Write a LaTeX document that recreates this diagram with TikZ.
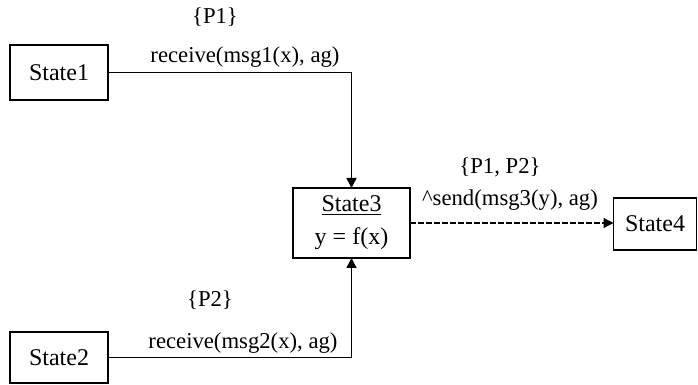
\documentclass[tikz,border=0pt]{standalone}
\usepackage{fontspec}
\setmainfont{Liberation Serif}
\usetikzlibrary{arrows.meta}
\tikzset{state/.style={draw=black, line width=0.8pt, inner sep=0pt, outer sep=0pt, align=center, font=\fontsize{12}{16.5}\selectfont},
%arrow tip of the transitions
trans/.style={line width=0.7pt, -{Triangle[length=5pt, width=5pt]}}}

\begin{document}
\begin{tikzpicture}[x=0.5pt, y=-0.5pt, font=\fontsize{11.35}{16.5}\selectfont]

\useasboundingbox (0,0) rectangle (698,385);

\node[state, minimum width=49pt, minimum height=27.5pt] (s1) at (59,72.5) {State1};
\node[state, minimum width=49pt, minimum height=25.5pt] (s2) at (59,357.5) {State2};
\node[state, minimum width=58.5pt, minimum height=35pt] (s3) at (351.5,223) {\underline{State3}\\y = f(x)};
\node[state, minimum width=41.5pt, minimum height=26pt] (s4) at (655,224) {State4};

\node (p1) at (215,17) {\{P1\}};
\node (r1) at (245,57) {receive(msg1(x), ag)};
\node (p2) at (210,300) {\{P2\}};
\node (r2) at (243,343) {receive(msg2(x), ag)};
\node (p12) at (500,167) {\{P1, P2\}};
\node (snd) at (510,200) {\textasciicircum send(msg3(y), ag)};

\foreach \i/\j in {s1/north, s2/south}
    \draw[trans] (\i.east) -| (s3.\j);

\draw[trans, dash pattern=on 3pt off 1pt] (s3.east) -- (s4.west |- s3.east);

\end{tikzpicture}
\end{document}
